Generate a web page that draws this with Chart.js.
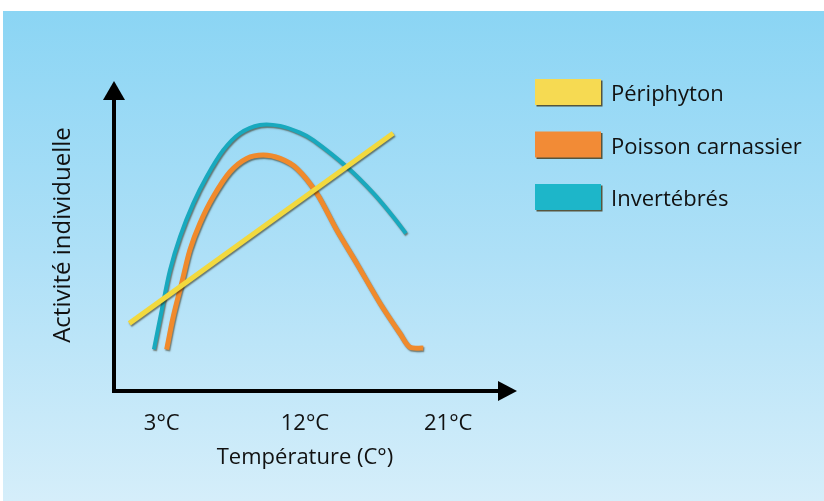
<!DOCTYPE html>
<html>
<head>
<meta charset="utf-8">
<script src="https://cdn.jsdelivr.net/npm/chart.js@4.4.1/dist/chart.umd.min.js"></script>
<style>
  html, body { margin: 0; padding: 0; background: #fff; }
  #wrap { width: 824px; height: 501px; position: relative; }
</style>
</head>
<body>
<div id="wrap"><canvas id="chart" width="824" height="501"></canvas></div>
<script>
// Données (x = température °C, y = activité relative)
const seriesNames = ['Périphyton', 'Poisson carnassier', 'Invertébrés'];
const lineColors = ['#F2D93E', '#F08A2C', '#18A9BE'];
const legendColors = ['#F6DA52', '#F28B36', '#1DB6C9'];
const xTicks = [3, 12, 21];

const periphytonX = [0.96, 17.54];
const periphytonY = [21.5, 82.8];

const poissonX = [3.31, 3.72, 4.25, 4.77, 5.40, 6.24, 7.29, 8.34, 9.38, 10.43, 11.48, 12.73, 13.99, 15.24, 16.71, 17.96, 18.59, 19.43];
const poissonY = [13.1, 23.6, 34.4, 45.2, 53.8, 62.4, 70.4, 74.7, 75.8, 74.7, 71.5, 63.5, 51.6, 40.9, 28.0, 18.3, 13.8, 13.5];

const invertX = [2.51, 3.00, 3.52, 4.15, 4.98, 5.82, 6.87, 7.91, 9.17, 10.43, 11.68, 12.52, 14.62, 16.29, 17.54, 18.34];
const invertY = [13.1, 25.8, 38.7, 49.5, 60.2, 68.8, 77.4, 82.8, 85.5, 85.2, 83.0, 80.6, 72.0, 63.5, 55.9, 50.5];

const toPoints = (xs, ys) => xs.map((x, i) => ({ x, y: ys[i] }));
const FONT = '"Open Sans", "Noto Sans", sans-serif';
const TEXT = '#111111';

// Fond bleu dégradé
const background = {
  id: 'background',
  beforeDraw(chart) {
    const { ctx, width, height } = chart;
    ctx.save();
    ctx.fillStyle = '#ffffff';
    ctx.fillRect(0, 0, width, height);
    const g = ctx.createLinearGradient(0, 11, 0, height);
    g.addColorStop(0, '#8BD5F4');
    g.addColorStop(0.5, '#AEE0F7');
    g.addColorStop(1, '#D5EEFA');
    ctx.fillStyle = g;
    ctx.fillRect(3, 11, width - 3, height - 11);
    ctx.restore();
  }
};

// Ombre portée sous les courbes (effet relief)
const lineShadow = {
  id: 'lineShadow',
  beforeDatasetDraw(chart) {
    const ctx = chart.ctx;
    ctx.save();
    ctx.shadowColor = 'rgba(40, 30, 0, 0.55)';
    ctx.shadowOffsetX = 1;
    ctx.shadowOffsetY = 1.5;
    ctx.shadowBlur = 1.5;
  },
  afterDatasetDraw(chart) {
    chart.ctx.restore();
  }
};

// Axes noirs avec flèches
const arrowAxes = {
  id: 'arrowAxes',
  afterDatasetsDraw(chart) {
    const { ctx, chartArea: a } = chart;
    const x0 = a.left, y0 = a.bottom + 1;
    const xEnd = a.right + 21, yEnd = a.top + 1;
    ctx.save();
    ctx.strokeStyle = '#000';
    ctx.fillStyle = '#000';
    ctx.lineWidth = 4;
    ctx.beginPath();
    ctx.moveTo(x0, yEnd + 16);
    ctx.lineTo(x0, y0);
    ctx.lineTo(xEnd - 16, y0);
    ctx.stroke();
    ctx.beginPath();
    ctx.moveTo(x0, yEnd);
    ctx.lineTo(x0 - 11, yEnd + 19);
    ctx.lineTo(x0 + 11, yEnd + 19);
    ctx.closePath();
    ctx.fill();
    ctx.beginPath();
    ctx.moveTo(xEnd, y0);
    ctx.lineTo(xEnd - 19, y0 - 10);
    ctx.lineTo(xEnd - 19, y0 + 10);
    ctx.closePath();
    ctx.fill();
    ctx.restore();
  }
};

// Légende à droite avec rectangles en relief
const boxLegend = {
  id: 'boxLegend',
  afterDraw(chart) {
    const { ctx } = chart;
    const bx = 535, by = 79, bw = 66, bh = 26, gap = 52.5;
    ctx.save();
    ctx.font = '22px ' + FONT;
    ctx.textBaseline = 'middle';
    ctx.textAlign = 'left';
    chart.data.datasets.forEach((ds, i) => {
      const y = by + i * gap;
      ctx.fillStyle = 'rgba(60, 40, 0, 0.75)';
      ctx.fillRect(bx + 1.5, y + 1.5, bw, bh);
      ctx.fillStyle = legendColors[i];
      ctx.fillRect(bx, y, bw, bh);
      ctx.fillStyle = TEXT;
      ctx.fillText(ds.label, 611, y + bh / 2 + 3);
    });
    ctx.restore();
  }
};

const datasets = [
  toPoints(periphytonX, periphytonY),
  toPoints(poissonX, poissonY),
  toPoints(invertX, invertY)
].map((data, i) => ({
  label: seriesNames[i],
  data,
  borderColor: lineColors[i],
  borderWidth: i === 2 ? 4 : 5,
  pointRadius: 0,
  fill: false,
  tension: 0.3,
  borderCapStyle: 'butt'
}));

new Chart(document.getElementById('chart').getContext('2d'), {
  type: 'line',
  data: { datasets },
  options: {
    responsive: false,
    animation: false,
    events: [],
    layout: { padding: { left: 0, top: 80, right: 328, bottom: 0 } },
    plugins: { legend: { display: false }, tooltip: { enabled: false } },
    scales: {
      x: {
        type: 'linear',
        min: 0,
        max: 24,
        grid: { display: false, drawTicks: false },
        border: { display: false },
        afterBuildTicks: (scale) => { scale.ticks = xTicks.map(v => ({ value: v })); },
        afterFit: (scale) => { scale.height = 111; },
        ticks: {
          padding: 21,
          color: TEXT,
          font: { family: FONT, size: 22 },
          callback: (v) => v + '°C'
        },
        title: {
          display: true,
          text: 'Température (C°)',
          color: TEXT,
          font: { family: FONT, size: 22 },
          padding: { top: 0, bottom: 30 }
        }
      },
      y: {
        min: 0,
        max: 100,
        grid: { display: false, drawTicks: false },
        border: { display: false },
        ticks: { display: false },
        afterFit: (scale) => { scale.width = 114; },
        title: {
          display: true,
          text: 'Activité individuelle',
          color: TEXT,
          font: { family: FONT, size: 24 },
          padding: { top: 49, bottom: 0 }
        }
      }
    }
  },
  plugins: [background, lineShadow, arrowAxes, boxLegend]
});
</script>
</body>
</html>
